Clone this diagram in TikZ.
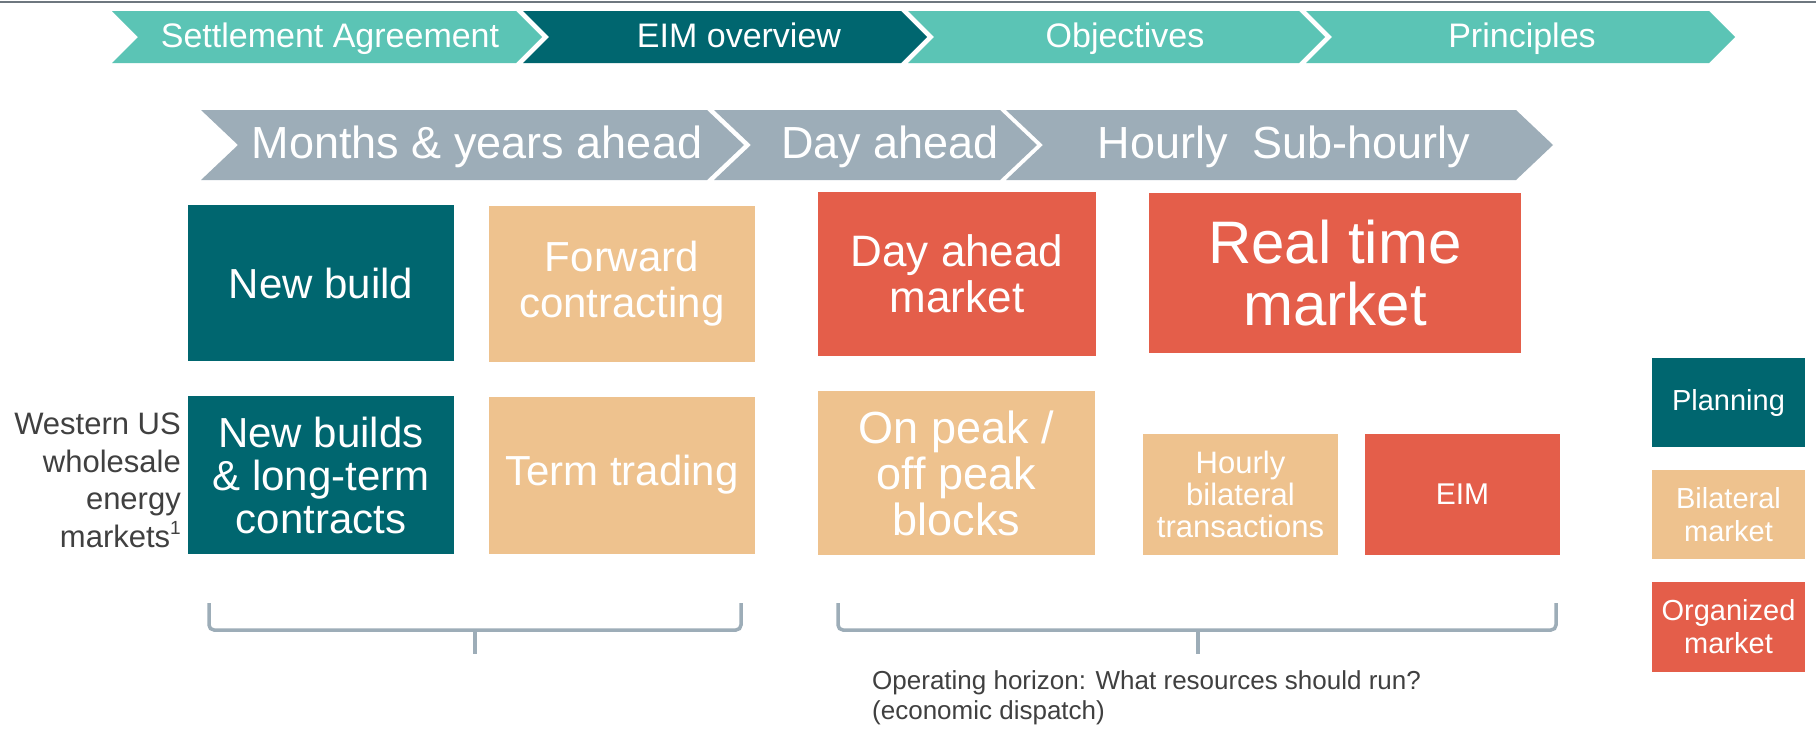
\documentclass[tikz,border=0pt]{standalone}
\usepackage{fontspec}
\setmainfont{Liberation Sans}
\definecolor{tealL}{HTML}{5BC4B5}
\definecolor{tealD}{HTML}{00666F}
\definecolor{greyB}{HTML}{9DADB8}
\definecolor{tanC}{HTML}{EEC28E}
\definecolor{redC}{HTML}{E45E4A}
\definecolor{txtC}{HTML}{404040}
\definecolor{lineC}{HTML}{6E777F}
\newcommand{\chev}[6]{\fill[#1] (#2,#4) -- (#3,#4) -- ({#3+#6},{(#4+#5)/2}) -- (#3,#5) -- (#2,#5) -- ({#2+#6},{(#4+#5)/2}) -- cycle;}
\tikzset{
  box/.style={inner sep=0pt, align=center, text=white},
  chevtxt/.style={inner sep=0pt, anchor=base, text=white},
  brace/.style={draw=greyB, line width=3.5pt, rounded corners=5pt}
}
\begin{document}
\begin{tikzpicture}[x=1pt,y=-1pt]
\useasboundingbox (0,0) rectangle (1816,729);
\fill[white] (0,0) rectangle (1816,729);
\draw[lineC, line width=2.2pt] (0,2) -- (1816,2);
% top navigation chevrons
\chev{tealL}{112}{516}{11}{63}{26}
\chev{tealD}{523}{901}{11}{63}{26}
\chev{tealL}{908}{1299}{11}{63}{26}
\chev{tealL}{1306}{1709}{11}{63}{26}
\begin{scope}[font=\fontsize{34}{40}\selectfont]
\node[chevtxt] (nav1) at (330,47) {Settlement Agreement};
\node[chevtxt] (nav2) at (739,47) {EIM overview};
\node[chevtxt] (nav3) at (1125,47) {Objectives};
\node[chevtxt] (nav4) at (1522,47) {Principles};
\end{scope}
% time chevrons
\chev{greyB}{201}{707}{110}{180}{37}
\chev{greyB}{714}{1000}{110}{180}{37}
\chev{greyB}{1006}{1516}{110}{180}{37}
\begin{scope}[font=\fontsize{45}{50}\selectfont]
\node[chevtxt] (t1) at (477,158) {Months \& years ahead};
\node[chevtxt] (t2) at (890,158) {Day ahead};
\node[chevtxt] (t3) at (1284,158) {Hourly\ \ Sub-hourly};
\end{scope}
% boxes
\node[box, fill=tealD, minimum width=266, minimum height=156, font=\fontsize{42}{46}\selectfont] (newbuild) at (321,283) {New build};
\node[box, fill=tanC, minimum width=266, minimum height=156, font=\fontsize{42}{46}\selectfont] (forward) at (622,284) {Forward\\contracting};
\node[box, fill=redC, minimum width=278, minimum height=164, font=\fontsize{44}{46}\selectfont] (dam) at (957,274) {Day ahead\\market};
\node[box, fill=redC, minimum width=372, minimum height=160, font=\fontsize{60}{62}\selectfont] (rtm) at (1335,273) {Real time\\market};
\node[box, fill=tealD, minimum width=266, minimum height=158, font=\fontsize{42}{43}\selectfont] (newbuilds) at (321,475) {New builds\\\& long-term\\contracts};
\node[box, fill=tanC, minimum width=266, minimum height=157, font=\fontsize{42}{46}\selectfont] (term) at (622,475) {Term trading};
\node[box, fill=tanC, minimum width=277, minimum height=164, font=\fontsize{45}{46}\selectfont] (onpeak) at (956.5,473) {On peak /\\off peak\\blocks};
\node[box, fill=tanC, minimum width=195, minimum height=121, font=\fontsize{31}{32}\selectfont] (hourly) at (1240.5,494.5) {Hourly\\bilateral\\transactions};
\node[box, fill=redC, minimum width=195, minimum height=121, font=\fontsize{30}{34}\selectfont] (eim) at (1462.5,494.5) {EIM};
% legend
\node[box, fill=tealD, minimum width=153, minimum height=89, font=\fontsize{29}{33}\selectfont] (lplan) at (1728.5,402.5) {Planning};
\node[box, fill=tanC, minimum width=153, minimum height=89, font=\fontsize{29}{33}\selectfont] (lbil) at (1728.5,514.5) {Bilateral\\market};
\node[box, fill=redC, minimum width=153, minimum height=90, font=\fontsize{29}{33}\selectfont] (lorg) at (1728.5,627) {Organized\\market};
% side label
\node[inner sep=0pt, anchor=north east, align=right, text=txtC, font=\fontsize{31}{37.5}\selectfont] (west) at (181,413) {Western US\\wholesale\\energy\\markets\raisebox{0.42em}{\fontsize{19}{19}\selectfont 1}};
% braces
\draw[brace] (209,603) -- (209,630) -- (741,630) -- (741,603);
\draw[greyB, line width=3.5pt] (475,630) -- (475,654);
\draw[brace] (838,603) -- (838,630) -- (1556,630) -- (1556,603);
\draw[greyB, line width=3.5pt] (1198,630) -- (1198,654);
% bottom note
\node[inner sep=0pt, anchor=north west, align=left, text=txtC, font=\fontsize{26}{30}\selectfont] (note) at (872,670) {Operating horizon: What resources should run?\\(economic dispatch)};
\end{tikzpicture}
\end{document}
